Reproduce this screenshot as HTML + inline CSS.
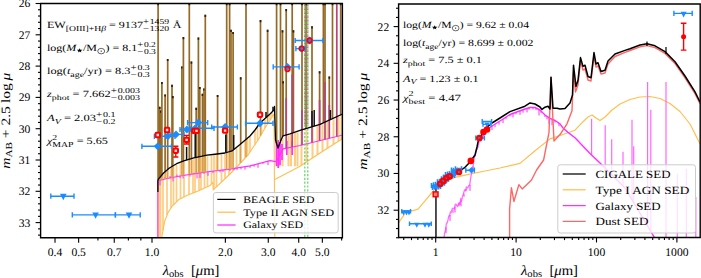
<!DOCTYPE html>
<html><head><meta charset="utf-8"><style>
html,body{margin:0;padding:0;background:#fff;width:701px;height:278px;overflow:hidden}
svg{display:block}
text{font-family:"Liberation Serif", serif;fill:#000;text-rendering:geometricPrecision;white-space:pre}
</style></head><body>
<svg xml:space="preserve" width="701" height="278" viewBox="0 0 701 278">
<clipPath id="cl"><rect x="40.6" y="3.5" width="301.79999999999995" height="234.3"/></clipPath>
<clipPath id="cr"><rect x="398.6" y="4.0" width="301.6" height="233.5"/></clipPath>
<g clip-path="url(#cl)"><line x1="160.50" y1="177.60" x2="160.50" y2="238.50" stroke="#ffcc80" stroke-width="1.7"/>
<line x1="163.00" y1="174.70" x2="163.00" y2="230.39" stroke="#ffcc80" stroke-width="1.7"/>
<line x1="167.00" y1="171.07" x2="167.00" y2="215.21" stroke="#ffcc80" stroke-width="1.7"/>
<line x1="171.00" y1="168.04" x2="171.00" y2="208.00" stroke="#ffcc80" stroke-width="1.7"/>
<line x1="173.50" y1="166.55" x2="173.50" y2="204.82" stroke="#ffcc80" stroke-width="1.7"/>
<line x1="176.50" y1="164.76" x2="176.50" y2="201.86" stroke="#ffcc80" stroke-width="1.7"/>
<line x1="180.50" y1="163.13" x2="180.50" y2="198.75" stroke="#ffcc80" stroke-width="1.7"/>
<line x1="184.00" y1="161.74" x2="184.00" y2="197.00" stroke="#ffcc80" stroke-width="1.7"/>
<line x1="189.00" y1="160.29" x2="189.00" y2="194.66" stroke="#ffcc80" stroke-width="1.7"/>
<line x1="193.00" y1="159.13" x2="193.00" y2="193.07" stroke="#ffcc80" stroke-width="1.7"/>
<line x1="195.00" y1="158.65" x2="195.00" y2="192.27" stroke="#ffcc80" stroke-width="1.7"/>
<line x1="199.00" y1="157.81" x2="199.00" y2="190.63" stroke="#ffcc80" stroke-width="1.7"/>
<line x1="201.00" y1="157.40" x2="201.00" y2="189.72" stroke="#ffcc80" stroke-width="1.7"/>
<line x1="204.50" y1="156.70" x2="204.50" y2="188.12" stroke="#ffcc80" stroke-width="1.7"/>
<line x1="207.50" y1="156.14" x2="207.50" y2="186.74" stroke="#ffcc80" stroke-width="1.7"/>
<line x1="211.50" y1="155.68" x2="211.50" y2="183.89" stroke="#ffcc80" stroke-width="1.7"/>
<line x1="214.00" y1="155.38" x2="214.00" y2="189.14" stroke="#ffcc80" stroke-width="1.7"/>
<line x1="216.50" y1="155.06" x2="216.50" y2="186.78" stroke="#ffcc80" stroke-width="1.7"/>
<line x1="221.50" y1="154.44" x2="221.50" y2="182.04" stroke="#ffcc80" stroke-width="1.7"/>
<line x1="225.00" y1="154.00" x2="225.00" y2="178.73" stroke="#ffcc80" stroke-width="1.7"/>
<line x1="229.00" y1="152.80" x2="229.00" y2="174.95" stroke="#ffcc80" stroke-width="1.7"/>
<line x1="233.00" y1="151.10" x2="233.00" y2="170.83" stroke="#ffcc80" stroke-width="1.7"/>
<line x1="236.50" y1="148.30" x2="236.50" y2="167.14" stroke="#ffcc80" stroke-width="1.7"/>
<line x1="240.00" y1="145.50" x2="240.00" y2="163.44" stroke="#ffcc80" stroke-width="1.7"/>
<line x1="245.00" y1="141.25" x2="245.00" y2="158.17" stroke="#ffcc80" stroke-width="1.7"/>
<line x1="247.50" y1="139.12" x2="247.50" y2="155.53" stroke="#ffcc80" stroke-width="1.7"/>
<line x1="250.00" y1="137.00" x2="250.00" y2="152.00" stroke="#ffcc80" stroke-width="1.7"/>
<line x1="255.00" y1="131.00" x2="255.00" y2="144.50" stroke="#ffcc80" stroke-width="1.7"/>
<line x1="257.50" y1="127.50" x2="257.50" y2="140.75" stroke="#ffcc80" stroke-width="1.7"/>
<line x1="261.50" y1="122.65" x2="261.50" y2="134.00" stroke="#ffcc80" stroke-width="1.7"/>
<line x1="265.00" y1="119.50" x2="265.00" y2="128.00" stroke="#ffcc80" stroke-width="1.7"/>
<line x1="270.00" y1="115.00" x2="270.00" y2="120.22" stroke="#ffcc80" stroke-width="1.7"/>
<line x1="272.00" y1="113.00" x2="272.00" y2="117.11" stroke="#ffcc80" stroke-width="1.7"/>
<line x1="277.00" y1="145.80" x2="277.00" y2="166.30" stroke="#ffcc80" stroke-width="2.0"/>
<line x1="279.50" y1="145.00" x2="279.50" y2="166.30" stroke="#ffcc80" stroke-width="2.0"/>
<line x1="282.50" y1="137.85" x2="282.50" y2="166.30" stroke="#ffcc80" stroke-width="2.0"/>
<line x1="288.50" y1="135.23" x2="288.50" y2="166.30" stroke="#ffcc80" stroke-width="2.0"/>
<line x1="291.00" y1="134.46" x2="291.00" y2="166.30" stroke="#ffcc80" stroke-width="2.0"/>
<line x1="295.00" y1="133.10" x2="295.00" y2="166.30" stroke="#ffcc80" stroke-width="2.0"/>
<line x1="297.50" y1="132.25" x2="297.50" y2="166.30" stroke="#ffcc80" stroke-width="2.0"/>
<line x1="301.50" y1="130.94" x2="301.50" y2="165.30" stroke="#ffcc80" stroke-width="2.0"/>
<line x1="306.50" y1="129.42" x2="306.50" y2="161.98" stroke="#ffcc80" stroke-width="2.0"/>
<line x1="312.50" y1="127.59" x2="312.50" y2="157.99" stroke="#ffcc80" stroke-width="2.0"/>
<line x1="317.50" y1="126.06" x2="317.50" y2="154.66" stroke="#ffcc80" stroke-width="2.0"/>
<line x1="322.50" y1="124.16" x2="322.50" y2="151.40" stroke="#ffcc80" stroke-width="2.0"/>
<line x1="327.50" y1="121.88" x2="327.50" y2="148.21" stroke="#ffcc80" stroke-width="2.0"/>
<line x1="333.50" y1="119.14" x2="333.50" y2="144.37" stroke="#ffcc80" stroke-width="2.0"/>
<line x1="338.50" y1="116.85" x2="338.50" y2="141.18" stroke="#ffcc80" stroke-width="2.0"/>
<line x1="341.50" y1="115.48" x2="341.50" y2="139.26" stroke="#ffcc80" stroke-width="2.0"/>
<line x1="276.50" y1="142.00" x2="276.50" y2="166.00" stroke="#ff30ff" stroke-width="1.7"/>
<line x1="278.20" y1="140.00" x2="278.20" y2="168.00" stroke="#ff30ff" stroke-width="1.7"/>
<line x1="280.00" y1="142.00" x2="280.00" y2="165.00" stroke="#ff30ff" stroke-width="1.7"/>
<line x1="282.00" y1="144.00" x2="282.00" y2="160.00" stroke="#ff30ff" stroke-width="1.7"/>
<line x1="286.80" y1="141.00" x2="286.80" y2="155.00" stroke="#ff30ff" stroke-width="1.7"/>
<line x1="292.20" y1="141.00" x2="292.20" y2="155.00" stroke="#ff30ff" stroke-width="1.7"/>
<path d="M161.50,238.50 L164.70,221.20 L168.00,212.60 L172.30,206.00 L178.80,199.60 L187.40,195.30 L198.20,191.00 L210.00,185.60 L212.90,182.30 L213.20,189.90 L230.00,174.00 L248.00,155.00 L258.00,140.00 L265.00,128.00 L274.00,114.00 L274.80,238.50" fill="none" stroke="#ffbf50" stroke-width="1.1" stroke-linejoin="round"/>
<path d="M274.80,179.60 L300.00,166.30 L320.00,153.00 L343.00,138.30" fill="none" stroke="#ffbf50" stroke-width="1.1" stroke-linejoin="round"/>
<line x1="158.90" y1="180.00" x2="158.90" y2="238.50" stroke="#ffbf50" stroke-width="1.4"/>
<path d="M157.80,238.50 L157.80,180.90 L165.00,179.00 L180.00,176.00 L195.00,173.70 L210.00,171.50 L230.00,169.10 L250.00,165.90 L270.00,160.60 L276.00,161.70 L283.00,148.80 L300.00,145.50 L343.00,135.00" fill="none" stroke="#ff30ff" stroke-width="1.2" stroke-linejoin="round"/>
<line x1="160.00" y1="180.32" x2="160.00" y2="185.32" stroke="#ff30ff" stroke-width="1.0"/>
<line x1="165.00" y1="179.00" x2="165.00" y2="177.00" stroke="#ff30ff" stroke-width="1.0"/>
<line x1="170.00" y1="178.00" x2="170.00" y2="176.00" stroke="#ff30ff" stroke-width="1.0"/>
<line x1="173.00" y1="177.40" x2="173.00" y2="181.40" stroke="#ff30ff" stroke-width="1.0"/>
<line x1="177.00" y1="176.60" x2="177.00" y2="174.60" stroke="#ff30ff" stroke-width="1.0"/>
<line x1="180.00" y1="176.00" x2="180.00" y2="178.00" stroke="#ff30ff" stroke-width="1.0"/>
<line x1="183.00" y1="175.54" x2="183.00" y2="178.54" stroke="#ff30ff" stroke-width="1.0"/>
<line x1="190.00" y1="174.47" x2="190.00" y2="176.47" stroke="#ff30ff" stroke-width="1.0"/>
<line x1="197.00" y1="173.41" x2="197.00" y2="178.41" stroke="#ff30ff" stroke-width="1.0"/>
<line x1="200.00" y1="172.97" x2="200.00" y2="177.97" stroke="#ff30ff" stroke-width="1.0"/>
<line x1="204.00" y1="172.38" x2="204.00" y2="173.88" stroke="#ff30ff" stroke-width="1.0"/>
<line x1="208.00" y1="171.79" x2="208.00" y2="175.79" stroke="#ff30ff" stroke-width="1.0"/>
<line x1="213.00" y1="171.14" x2="213.00" y2="173.14" stroke="#ff30ff" stroke-width="1.0"/>
<line x1="220.00" y1="170.30" x2="220.00" y2="172.30" stroke="#ff30ff" stroke-width="1.0"/>
<line x1="223.00" y1="169.94" x2="223.00" y2="171.94" stroke="#ff30ff" stroke-width="1.0"/>
<line x1="230.00" y1="169.10" x2="230.00" y2="171.10" stroke="#ff30ff" stroke-width="1.0"/>
<line x1="234.00" y1="168.46" x2="234.00" y2="169.96" stroke="#ff30ff" stroke-width="1.0"/>
<line x1="237.00" y1="167.98" x2="237.00" y2="169.98" stroke="#ff30ff" stroke-width="1.0"/>
<line x1="241.00" y1="167.34" x2="241.00" y2="169.34" stroke="#ff30ff" stroke-width="1.0"/>
<line x1="245.00" y1="166.70" x2="245.00" y2="169.70" stroke="#ff30ff" stroke-width="1.0"/>
<line x1="250.00" y1="165.90" x2="250.00" y2="167.90" stroke="#ff30ff" stroke-width="1.0"/>
<line x1="254.00" y1="164.84" x2="254.00" y2="166.84" stroke="#ff30ff" stroke-width="1.0"/>
<line x1="258.00" y1="163.78" x2="258.00" y2="167.78" stroke="#ff30ff" stroke-width="1.0"/>
<line x1="263.00" y1="162.45" x2="263.00" y2="163.95" stroke="#ff30ff" stroke-width="1.0"/>
<line x1="268.00" y1="161.13" x2="268.00" y2="165.13" stroke="#ff30ff" stroke-width="1.0"/>
<line x1="158.10" y1="179.80" x2="158.10" y2="180.82" stroke="#d9a050" stroke-width="1.6"/>
<line x1="158.10" y1="3.00" x2="158.10" y2="179.80" stroke="#946a26" stroke-width="1.7"/>
<line x1="158.10" y1="3.00" x2="158.10" y2="5.20" stroke="#2a2010" stroke-width="1.7"/>
<line x1="159.70" y1="177.52" x2="159.70" y2="180.40" stroke="#d9a050" stroke-width="1.6"/>
<line x1="159.70" y1="106.70" x2="159.70" y2="177.52" stroke="#946a26" stroke-width="1.7"/>
<line x1="159.70" y1="106.70" x2="159.70" y2="108.90" stroke="#2a2010" stroke-width="1.7"/>
<line x1="160.80" y1="176.25" x2="160.80" y2="180.11" stroke="#d9a050" stroke-width="1.6"/>
<line x1="160.80" y1="110.60" x2="160.80" y2="176.25" stroke="#946a26" stroke-width="1.7"/>
<line x1="160.80" y1="110.60" x2="160.80" y2="112.80" stroke="#2a2010" stroke-width="1.7"/>
<line x1="161.90" y1="174.97" x2="161.90" y2="179.82" stroke="#d9a050" stroke-width="1.6"/>
<line x1="161.90" y1="81.90" x2="161.90" y2="174.97" stroke="#946a26" stroke-width="1.7"/>
<line x1="161.90" y1="81.90" x2="161.90" y2="84.10" stroke="#2a2010" stroke-width="1.7"/>
<line x1="165.10" y1="171.71" x2="165.10" y2="178.98" stroke="#d9a050" stroke-width="1.6"/>
<line x1="165.10" y1="94.40" x2="165.10" y2="171.71" stroke="#946a26" stroke-width="1.7"/>
<line x1="165.10" y1="94.40" x2="165.10" y2="96.60" stroke="#2a2010" stroke-width="1.7"/>
<line x1="167.70" y1="169.47" x2="167.70" y2="178.46" stroke="#d9a050" stroke-width="1.6"/>
<line x1="167.70" y1="58.90" x2="167.70" y2="169.47" stroke="#946a26" stroke-width="1.7"/>
<line x1="167.70" y1="58.90" x2="167.70" y2="61.10" stroke="#2a2010" stroke-width="1.7"/>
<line x1="172.00" y1="166.45" x2="172.00" y2="177.60" stroke="#d9a050" stroke-width="1.6"/>
<line x1="172.00" y1="84.70" x2="172.00" y2="166.45" stroke="#946a26" stroke-width="1.7"/>
<line x1="172.00" y1="84.70" x2="172.00" y2="86.90" stroke="#2a2010" stroke-width="1.7"/>
<line x1="172.80" y1="165.97" x2="172.80" y2="177.44" stroke="#d9a050" stroke-width="1.6"/>
<line x1="172.80" y1="96.00" x2="172.80" y2="165.97" stroke="#946a26" stroke-width="1.7"/>
<line x1="172.80" y1="96.00" x2="172.80" y2="98.20" stroke="#2a2010" stroke-width="1.7"/>
<line x1="181.90" y1="161.57" x2="181.90" y2="175.71" stroke="#d9a050" stroke-width="1.6"/>
<line x1="181.90" y1="66.40" x2="181.90" y2="161.57" stroke="#946a26" stroke-width="1.7"/>
<line x1="181.90" y1="66.40" x2="181.90" y2="68.60" stroke="#2a2010" stroke-width="1.7"/>
<line x1="183.40" y1="160.96" x2="183.40" y2="175.48" stroke="#d9a050" stroke-width="1.6"/>
<line x1="183.40" y1="37.00" x2="183.40" y2="160.96" stroke="#946a26" stroke-width="1.7"/>
<line x1="183.40" y1="37.00" x2="183.40" y2="39.20" stroke="#2a2010" stroke-width="1.7"/>
<line x1="189.30" y1="159.21" x2="189.30" y2="174.57" stroke="#d9a050" stroke-width="1.6"/>
<line x1="189.30" y1="3.00" x2="189.30" y2="159.21" stroke="#946a26" stroke-width="1.7"/>
<line x1="189.30" y1="3.00" x2="189.30" y2="5.20" stroke="#2a2010" stroke-width="1.7"/>
<line x1="191.40" y1="158.60" x2="191.40" y2="174.25" stroke="#d9a050" stroke-width="1.6"/>
<line x1="191.40" y1="61.50" x2="191.40" y2="158.60" stroke="#946a26" stroke-width="1.7"/>
<line x1="191.40" y1="61.50" x2="191.40" y2="63.70" stroke="#2a2010" stroke-width="1.7"/>
<line x1="196.20" y1="157.40" x2="196.20" y2="173.52" stroke="#d9a050" stroke-width="1.6"/>
<line x1="196.20" y1="107.80" x2="196.20" y2="157.40" stroke="#946a26" stroke-width="1.7"/>
<line x1="196.20" y1="107.80" x2="196.20" y2="110.00" stroke="#2a2010" stroke-width="1.7"/>
<line x1="198.40" y1="156.94" x2="198.40" y2="173.20" stroke="#d9a050" stroke-width="1.6"/>
<line x1="198.40" y1="37.50" x2="198.40" y2="156.94" stroke="#946a26" stroke-width="1.7"/>
<line x1="198.40" y1="37.50" x2="198.40" y2="39.70" stroke="#2a2010" stroke-width="1.7"/>
<line x1="199.80" y1="156.64" x2="199.80" y2="173.00" stroke="#d9a050" stroke-width="1.6"/>
<line x1="199.80" y1="86.90" x2="199.80" y2="156.64" stroke="#946a26" stroke-width="1.7"/>
<line x1="199.80" y1="86.90" x2="199.80" y2="89.10" stroke="#2a2010" stroke-width="1.7"/>
<line x1="202.50" y1="156.10" x2="202.50" y2="172.60" stroke="#d9a050" stroke-width="1.6"/>
<line x1="202.50" y1="93.80" x2="202.50" y2="156.10" stroke="#946a26" stroke-width="1.7"/>
<line x1="202.50" y1="93.80" x2="202.50" y2="96.00" stroke="#2a2010" stroke-width="1.7"/>
<line x1="204.00" y1="155.80" x2="204.00" y2="172.38" stroke="#d9a050" stroke-width="1.6"/>
<line x1="204.00" y1="88.40" x2="204.00" y2="155.80" stroke="#946a26" stroke-width="1.7"/>
<line x1="204.00" y1="88.40" x2="204.00" y2="90.60" stroke="#2a2010" stroke-width="1.7"/>
<line x1="205.30" y1="155.54" x2="205.30" y2="172.19" stroke="#d9a050" stroke-width="1.6"/>
<line x1="205.30" y1="14.70" x2="205.30" y2="155.54" stroke="#946a26" stroke-width="1.7"/>
<line x1="205.30" y1="14.70" x2="205.30" y2="16.90" stroke="#2a2010" stroke-width="1.7"/>
<line x1="217.60" y1="153.93" x2="217.60" y2="170.59" stroke="#d9a050" stroke-width="1.6"/>
<line x1="217.60" y1="94.90" x2="217.60" y2="153.93" stroke="#946a26" stroke-width="1.7"/>
<line x1="217.60" y1="94.90" x2="217.60" y2="97.10" stroke="#2a2010" stroke-width="1.7"/>
<line x1="226.70" y1="152.49" x2="226.70" y2="169.50" stroke="#d9a050" stroke-width="1.6"/>
<line x1="226.70" y1="3.00" x2="226.70" y2="152.49" stroke="#946a26" stroke-width="1.7"/>
<line x1="226.70" y1="3.00" x2="226.70" y2="5.20" stroke="#2a2010" stroke-width="1.7"/>
<line x1="229.60" y1="151.62" x2="229.60" y2="169.15" stroke="#d9a050" stroke-width="1.6"/>
<line x1="229.60" y1="3.00" x2="229.60" y2="151.62" stroke="#946a26" stroke-width="1.7"/>
<line x1="229.60" y1="3.00" x2="229.60" y2="5.20" stroke="#2a2010" stroke-width="1.7"/>
<line x1="231.00" y1="151.20" x2="231.00" y2="168.94" stroke="#d9a050" stroke-width="1.6"/>
<line x1="231.00" y1="29.70" x2="231.00" y2="151.20" stroke="#946a26" stroke-width="1.7"/>
<line x1="231.00" y1="29.70" x2="231.00" y2="31.90" stroke="#2a2010" stroke-width="1.7"/>
<line x1="233.10" y1="150.02" x2="233.10" y2="168.60" stroke="#d9a050" stroke-width="1.6"/>
<line x1="233.10" y1="31.90" x2="233.10" y2="150.02" stroke="#946a26" stroke-width="1.7"/>
<line x1="233.10" y1="31.90" x2="233.10" y2="34.10" stroke="#2a2010" stroke-width="1.7"/>
<line x1="240.70" y1="143.91" x2="240.70" y2="162.71" stroke="#d9a050" stroke-width="1.6"/>
<line x1="240.70" y1="77.20" x2="240.70" y2="143.91" stroke="#946a26" stroke-width="1.7"/>
<line x1="240.70" y1="77.20" x2="240.70" y2="79.40" stroke="#2a2010" stroke-width="1.7"/>
<line x1="246.00" y1="139.40" x2="246.00" y2="157.11" stroke="#d9a050" stroke-width="1.6"/>
<line x1="246.00" y1="3.00" x2="246.00" y2="139.40" stroke="#946a26" stroke-width="1.7"/>
<line x1="246.00" y1="3.00" x2="246.00" y2="5.20" stroke="#2a2010" stroke-width="1.7"/>
<line x1="260.50" y1="122.55" x2="260.50" y2="135.71" stroke="#d9a050" stroke-width="1.6"/>
<line x1="260.50" y1="20.00" x2="260.50" y2="122.55" stroke="#946a26" stroke-width="1.7"/>
<line x1="260.50" y1="20.00" x2="260.50" y2="22.20" stroke="#2a2010" stroke-width="1.7"/>
<line x1="267.60" y1="116.16" x2="267.60" y2="123.96" stroke="#d9a050" stroke-width="1.6"/>
<line x1="267.60" y1="29.70" x2="267.60" y2="116.16" stroke="#946a26" stroke-width="1.7"/>
<line x1="267.60" y1="29.70" x2="267.60" y2="31.90" stroke="#2a2010" stroke-width="1.7"/>
<line x1="276.60" y1="3.00" x2="276.60" y2="143.52" stroke="#946a26" stroke-width="1.7"/>
<line x1="276.60" y1="3.00" x2="276.60" y2="5.20" stroke="#2a2010" stroke-width="1.7"/>
<line x1="280.50" y1="3.00" x2="280.50" y2="141.33" stroke="#946a26" stroke-width="1.7"/>
<line x1="280.50" y1="3.00" x2="280.50" y2="5.20" stroke="#2a2010" stroke-width="1.7"/>
<line x1="282.50" y1="30.20" x2="282.50" y2="136.85" stroke="#946a26" stroke-width="1.7"/>
<line x1="282.50" y1="30.20" x2="282.50" y2="32.40" stroke="#2a2010" stroke-width="1.7"/>
<line x1="283.10" y1="81.30" x2="283.10" y2="135.77" stroke="#946a26" stroke-width="1.7"/>
<line x1="283.10" y1="81.30" x2="283.10" y2="83.50" stroke="#2a2010" stroke-width="1.7"/>
<line x1="286.20" y1="9.00" x2="286.20" y2="134.89" stroke="#946a26" stroke-width="1.7"/>
<line x1="286.20" y1="9.00" x2="286.20" y2="11.20" stroke="#2a2010" stroke-width="1.7"/>
<line x1="292.20" y1="3.00" x2="292.20" y2="133.05" stroke="#946a26" stroke-width="1.7"/>
<line x1="292.20" y1="3.00" x2="292.20" y2="5.20" stroke="#2a2010" stroke-width="1.7"/>
<line x1="293.40" y1="30.20" x2="293.40" y2="132.64" stroke="#946a26" stroke-width="1.7"/>
<line x1="293.40" y1="30.20" x2="293.40" y2="32.40" stroke="#2a2010" stroke-width="1.7"/>
<line x1="302.00" y1="3.00" x2="302.00" y2="129.79" stroke="#946a26" stroke-width="1.7"/>
<line x1="302.00" y1="3.00" x2="302.00" y2="5.20" stroke="#2a2010" stroke-width="1.7"/>
<line x1="306.00" y1="3.00" x2="306.00" y2="128.57" stroke="#946a26" stroke-width="1.7"/>
<line x1="306.00" y1="3.00" x2="306.00" y2="5.20" stroke="#2a2010" stroke-width="1.7"/>
<line x1="312.00" y1="26.30" x2="312.00" y2="126.74" stroke="#946a26" stroke-width="1.7"/>
<line x1="312.00" y1="26.30" x2="312.00" y2="28.50" stroke="#2a2010" stroke-width="1.7"/>
<line x1="319.60" y1="71.20" x2="319.60" y2="124.42" stroke="#946a26" stroke-width="1.7"/>
<line x1="319.60" y1="71.20" x2="319.60" y2="73.40" stroke="#2a2010" stroke-width="1.7"/>
<line x1="323.40" y1="3.00" x2="323.40" y2="122.75" stroke="#946a26" stroke-width="1.7"/>
<line x1="323.40" y1="3.00" x2="323.40" y2="5.20" stroke="#2a2010" stroke-width="1.7"/>
<line x1="325.00" y1="3.00" x2="325.00" y2="122.02" stroke="#946a26" stroke-width="1.7"/>
<line x1="325.00" y1="3.00" x2="325.00" y2="5.20" stroke="#2a2010" stroke-width="1.7"/>
<line x1="329.30" y1="76.60" x2="329.30" y2="120.05" stroke="#946a26" stroke-width="1.7"/>
<line x1="329.30" y1="76.60" x2="329.30" y2="78.80" stroke="#2a2010" stroke-width="1.7"/>
<line x1="332.50" y1="3.00" x2="332.50" y2="118.59" stroke="#946a26" stroke-width="1.7"/>
<line x1="332.50" y1="3.00" x2="332.50" y2="5.20" stroke="#2a2010" stroke-width="1.7"/>
<line x1="340.70" y1="3.00" x2="340.70" y2="114.85" stroke="#946a26" stroke-width="1.7"/>
<line x1="340.70" y1="3.00" x2="340.70" y2="5.20" stroke="#2a2010" stroke-width="1.7"/>
<line x1="286.20" y1="98.00" x2="286.20" y2="148.18" stroke="#b8457a" stroke-width="1.7"/>
<line x1="292.20" y1="74.40" x2="292.20" y2="147.01" stroke="#b8457a" stroke-width="1.7"/>
<line x1="302.00" y1="110.00" x2="302.00" y2="145.01" stroke="#b8457a" stroke-width="1.7"/>
<line x1="312.00" y1="115.00" x2="312.00" y2="142.57" stroke="#b8457a" stroke-width="1.7"/>
<line x1="319.60" y1="100.00" x2="319.60" y2="140.71" stroke="#b8457a" stroke-width="1.7"/>
<line x1="325.00" y1="82.00" x2="325.00" y2="139.40" stroke="#b8457a" stroke-width="1.7"/>
<line x1="329.30" y1="105.00" x2="329.30" y2="138.35" stroke="#b8457a" stroke-width="1.7"/>
<line x1="336.80" y1="3.00" x2="336.80" y2="136.51" stroke="#b8457a" stroke-width="1.7"/>
<line x1="186.60" y1="147.00" x2="186.60" y2="159.99" stroke="#111" stroke-width="1.5"/>
<line x1="195.20" y1="133.60" x2="195.20" y2="157.61" stroke="#111" stroke-width="1.5"/>
<line x1="225.80" y1="134.40" x2="225.80" y2="152.76" stroke="#111" stroke-width="1.5"/>
<line x1="233.70" y1="135.00" x2="233.70" y2="149.54" stroke="#111" stroke-width="1.5"/>
<line x1="266.00" y1="112.00" x2="266.00" y2="117.60" stroke="#111" stroke-width="1.5"/>
<line x1="273.00" y1="106.70" x2="273.00" y2="111.00" stroke="#111" stroke-width="1.5"/>
<line x1="312.00" y1="111.00" x2="312.00" y2="126.74" stroke="#111" stroke-width="1.5"/>
<line x1="314.20" y1="110.00" x2="314.20" y2="126.07" stroke="#111" stroke-width="1.5"/>
<line x1="330.40" y1="110.00" x2="330.40" y2="119.55" stroke="#111" stroke-width="1.5"/>
<line x1="304.80" y1="3.00" x2="304.80" y2="125.00" stroke="#c05090" stroke-width="1.2" stroke-dasharray="1.6,2.2" stroke-dashoffset="1.9"/>
<line x1="304.80" y1="3.00" x2="304.80" y2="238.00" stroke="#66d066" stroke-width="1.2" stroke-dasharray="2.2,1.6"/>
<line x1="307.80" y1="3.00" x2="307.80" y2="125.00" stroke="#c05090" stroke-width="1.2" stroke-dasharray="1.6,2.2" stroke-dashoffset="1.9"/>
<line x1="307.80" y1="3.00" x2="307.80" y2="238.00" stroke="#66d066" stroke-width="1.2" stroke-dasharray="2.2,1.6"/>
<path d="M157.90,192.00 L157.90,180.20 L158.60,178.80 L163.60,173.00 L169.40,168.00 L176.60,163.70 L183.80,160.80 L193.80,157.90 L200.00,156.60 L207.00,155.20 L213.00,154.50 L225.00,153.00 L232.00,150.90 L240.00,144.50 L250.00,136.00 L255.00,130.00 L260.00,123.00 L270.00,114.00 L274.00,110.00 L274.50,106.50 L275.50,140.00 L278.00,148.00 L281.00,140.00 L283.00,135.80 L290.00,133.80 L300.00,130.40 L320.00,124.30 L343.00,113.80" fill="none" stroke="#000" stroke-width="1.3" stroke-linejoin="round"/>
<line x1="141.90" y1="146.30" x2="171.50" y2="146.30" stroke="#1a8cff" stroke-width="1.4"/><line x1="141.90" y1="143.70" x2="141.90" y2="148.90" stroke="#1a8cff" stroke-width="1.4"/><line x1="171.50" y1="143.70" x2="171.50" y2="148.90" stroke="#1a8cff" stroke-width="1.4"/>
<path d="M157.60,142.40 L161.50,146.30 L157.60,150.20 L153.70,146.30 Z" fill="#1a8cff"/>
<line x1="154.40" y1="136.30" x2="175.00" y2="136.30" stroke="#1a8cff" stroke-width="1.4"/><line x1="154.40" y1="133.70" x2="154.40" y2="138.90" stroke="#1a8cff" stroke-width="1.4"/><line x1="175.00" y1="133.70" x2="175.00" y2="138.90" stroke="#1a8cff" stroke-width="1.4"/>
<path d="M167.80,132.40 L171.70,136.30 L167.80,140.20 L163.90,136.30 Z" fill="#1a8cff"/>
<line x1="170.00" y1="134.40" x2="184.00" y2="134.40" stroke="#1a8cff" stroke-width="1.4"/><line x1="170.00" y1="131.80" x2="170.00" y2="137.00" stroke="#1a8cff" stroke-width="1.4"/><line x1="184.00" y1="131.80" x2="184.00" y2="137.00" stroke="#1a8cff" stroke-width="1.4"/>
<path d="M176.00,130.50 L179.90,134.40 L176.00,138.30 L172.10,134.40 Z" fill="#1a8cff"/>
<line x1="180.00" y1="129.50" x2="191.00" y2="129.50" stroke="#1a8cff" stroke-width="1.4"/><line x1="180.00" y1="126.90" x2="180.00" y2="132.10" stroke="#1a8cff" stroke-width="1.4"/><line x1="191.00" y1="126.90" x2="191.00" y2="132.10" stroke="#1a8cff" stroke-width="1.4"/>
<path d="M186.90,125.60 L190.80,129.50 L186.90,133.40 L183.00,129.50 Z" fill="#1a8cff"/>
<line x1="187.60" y1="122.60" x2="207.70" y2="122.60" stroke="#1a8cff" stroke-width="1.4"/><line x1="187.60" y1="120.00" x2="187.60" y2="125.20" stroke="#1a8cff" stroke-width="1.4"/><line x1="207.70" y1="120.00" x2="207.70" y2="125.20" stroke="#1a8cff" stroke-width="1.4"/>
<path d="M198.30,118.70 L202.20,122.60 L198.30,126.50 L194.40,122.60 Z" fill="#1a8cff"/>
<line x1="190.00" y1="128.30" x2="214.00" y2="128.30" stroke="#1a8cff" stroke-width="1.4"/><line x1="190.00" y1="125.70" x2="190.00" y2="130.90" stroke="#1a8cff" stroke-width="1.4"/><line x1="214.00" y1="125.70" x2="214.00" y2="130.90" stroke="#1a8cff" stroke-width="1.4"/>
<path d="M195.10,124.40 L199.00,128.30 L195.10,132.20 L191.20,128.30 Z" fill="#1a8cff"/>
<line x1="211.70" y1="127.00" x2="237.40" y2="127.00" stroke="#1a8cff" stroke-width="1.4"/><line x1="211.70" y1="124.40" x2="211.70" y2="129.60" stroke="#1a8cff" stroke-width="1.4"/><line x1="237.40" y1="124.40" x2="237.40" y2="129.60" stroke="#1a8cff" stroke-width="1.4"/>
<path d="M225.10,123.10 L229.00,127.00 L225.10,130.90 L221.20,127.00 Z" fill="#1a8cff"/>
<line x1="245.60" y1="123.30" x2="273.00" y2="123.30" stroke="#1a8cff" stroke-width="1.4"/><line x1="245.60" y1="120.70" x2="245.60" y2="125.90" stroke="#1a8cff" stroke-width="1.4"/><line x1="273.00" y1="120.70" x2="273.00" y2="125.90" stroke="#1a8cff" stroke-width="1.4"/>
<path d="M260.00,119.40 L263.90,123.30 L260.00,127.20 L256.10,123.30 Z" fill="#1a8cff"/>
<line x1="273.20" y1="66.90" x2="299.10" y2="66.90" stroke="#1a8cff" stroke-width="1.4"/><line x1="273.20" y1="64.30" x2="273.20" y2="69.50" stroke="#1a8cff" stroke-width="1.4"/><line x1="299.10" y1="64.30" x2="299.10" y2="69.50" stroke="#1a8cff" stroke-width="1.4"/>
<path d="M287.50,63.00 L291.40,66.90 L287.50,70.80 L283.60,66.90 Z" fill="#1a8cff"/>
<line x1="295.20" y1="40.50" x2="322.90" y2="40.50" stroke="#1a8cff" stroke-width="1.4"/><line x1="295.20" y1="37.90" x2="295.20" y2="43.10" stroke="#1a8cff" stroke-width="1.4"/><line x1="322.90" y1="37.90" x2="322.90" y2="43.10" stroke="#1a8cff" stroke-width="1.4"/>
<path d="M309.70,36.60 L313.60,40.50 L309.70,44.40 L305.80,40.50 Z" fill="#1a8cff"/>
<line x1="295.90" y1="48.60" x2="305.10" y2="48.60" stroke="#1a8cff" stroke-width="1.4"/><line x1="295.90" y1="46.00" x2="295.90" y2="51.20" stroke="#1a8cff" stroke-width="1.4"/><line x1="305.10" y1="46.00" x2="305.10" y2="51.20" stroke="#1a8cff" stroke-width="1.4"/>
<path d="M301.70,44.70 L305.60,48.60 L301.70,52.50 L297.80,48.60 Z" fill="#1a8cff"/>
<line x1="50.80" y1="196.20" x2="74.00" y2="196.20" stroke="#1a8cff" stroke-width="1.4"/><line x1="50.80" y1="193.60" x2="50.80" y2="198.80" stroke="#1a8cff" stroke-width="1.4"/><line x1="74.00" y1="193.60" x2="74.00" y2="198.80" stroke="#1a8cff" stroke-width="1.4"/>
<path d="M60.00,193.72 L66.60,193.72 L63.30,200.16 Z" fill="#1a8cff"/>
<line x1="72.30" y1="214.90" x2="115.40" y2="214.90" stroke="#1a8cff" stroke-width="1.4"/><line x1="72.30" y1="212.30" x2="72.30" y2="217.50" stroke="#1a8cff" stroke-width="1.4"/><line x1="115.40" y1="212.30" x2="115.40" y2="217.50" stroke="#1a8cff" stroke-width="1.4"/>
<path d="M92.30,212.43 L98.90,212.43 L95.60,218.86 Z" fill="#1a8cff"/>
<line x1="115.40" y1="214.90" x2="140.20" y2="214.90" stroke="#1a8cff" stroke-width="1.4"/><line x1="115.40" y1="212.30" x2="115.40" y2="217.50" stroke="#1a8cff" stroke-width="1.4"/><line x1="140.20" y1="212.30" x2="140.20" y2="217.50" stroke="#1a8cff" stroke-width="1.4"/>
<path d="M125.70,212.43 L132.30,212.43 L129.00,218.86 Z" fill="#1a8cff"/>
<rect x="155.60" y="132.80" width="4.40" height="4.40" rx="0.8" fill="#ffdddd" stroke="#ff0000" stroke-width="2.0"/>
<rect x="164.90" y="127.80" width="4.40" height="4.40" rx="0.8" fill="#ffdddd" stroke="#ff0000" stroke-width="2.0"/>
<line x1="175.80" y1="146.20" x2="175.80" y2="157.00" stroke="#ff0000" stroke-width="1.4"/><line x1="173.20" y1="146.20" x2="178.40" y2="146.20" stroke="#ff0000" stroke-width="1.4"/><line x1="173.20" y1="157.00" x2="178.40" y2="157.00" stroke="#ff0000" stroke-width="1.4"/>
<rect x="173.60" y="148.50" width="4.40" height="4.40" rx="0.8" fill="#ffdddd" stroke="#ff0000" stroke-width="2.0"/>
<line x1="186.60" y1="135.40" x2="186.60" y2="144.00" stroke="#ff0000" stroke-width="1.4"/><line x1="184.00" y1="135.40" x2="189.20" y2="135.40" stroke="#ff0000" stroke-width="1.4"/><line x1="184.00" y1="144.00" x2="189.20" y2="144.00" stroke="#ff0000" stroke-width="1.4"/>
<rect x="184.40" y="137.70" width="4.40" height="4.40" rx="0.8" fill="#ffdddd" stroke="#ff0000" stroke-width="2.0"/>
<rect x="192.10" y="128.70" width="4.40" height="4.40" rx="0.8" fill="#ffdddd" stroke="#ff0000" stroke-width="2.0"/>
<rect x="194.30" y="128.70" width="4.40" height="4.40" rx="0.8" fill="#ffdddd" stroke="#ff0000" stroke-width="2.0"/>
<rect x="222.90" y="128.40" width="4.40" height="4.40" rx="0.8" fill="#ffdddd" stroke="#ff0000" stroke-width="2.0"/>
<rect x="257.80" y="112.50" width="4.40" height="4.40" rx="0.8" fill="#ffdddd" stroke="#ff0000" stroke-width="2.0"/>
<circle cx="287.50" cy="69.00" r="2.3" fill="none" stroke="#ff0000" stroke-width="1.7"/>
<circle cx="309.60" cy="40.50" r="2.3" fill="none" stroke="#ff0000" stroke-width="1.7"/>
<circle cx="301.70" cy="48.60" r="2.3" fill="none" stroke="#ff0000" stroke-width="1.7"/></g>
<g clip-path="url(#cr)"><path d="M398.00,223.75 L405.00,213.30 L412.00,210.80 L418.00,209.20 L425.00,200.80 L432.00,192.50 L437.00,186.20 L445.00,181.60 L455.00,177.30 L465.00,175.10 L485.00,171.00 L500.00,168.00 L520.00,163.40 L535.00,150.80 L550.00,138.90 L560.00,135.50 L575.00,130.20 L583.00,121.70 L588.00,117.00 L592.00,115.00 L596.00,118.00 L600.00,120.50 L605.00,117.00 L612.00,110.00 L620.00,104.00 L630.00,99.50 L640.00,97.00 L650.00,96.50 L660.00,98.50 L670.00,103.50 L680.00,111.50 L690.00,124.00 L700.00,143.70" fill="none" stroke="#ffbf50" stroke-width="1.2" stroke-linejoin="round"/>
<line x1="591.60" y1="118.80" x2="591.60" y2="154.94" stroke="#ff66ff" stroke-width="1.2"/>
<line x1="605.20" y1="125.30" x2="605.20" y2="168.20" stroke="#ff66ff" stroke-width="1.2"/>
<line x1="611.70" y1="139.20" x2="611.70" y2="174.70" stroke="#ff66ff" stroke-width="1.2"/>
<line x1="623.00" y1="151.80" x2="623.00" y2="186.00" stroke="#ff66ff" stroke-width="1.2"/>
<line x1="632.00" y1="119.80" x2="632.00" y2="199.78" stroke="#ff66ff" stroke-width="1.2"/>
<line x1="633.70" y1="146.30" x2="633.70" y2="202.65" stroke="#ff66ff" stroke-width="1.2"/>
<line x1="647.60" y1="82.00" x2="647.60" y2="226.04" stroke="#ff66ff" stroke-width="1.2"/>
<line x1="650.80" y1="109.80" x2="650.80" y2="231.43" stroke="#ff66ff" stroke-width="1.2"/>
<line x1="666.00" y1="82.00" x2="666.00" y2="238.50" stroke="#ff66ff" stroke-width="1.2"/>
<line x1="677.30" y1="174.00" x2="677.30" y2="238.50" stroke="#ff66ff" stroke-width="1.2"/>
<line x1="686.30" y1="168.80" x2="686.30" y2="238.50" stroke="#ff66ff" stroke-width="1.2"/>
<line x1="695.80" y1="197.00" x2="695.80" y2="238.50" stroke="#ff66ff" stroke-width="1.2"/>
<path d="M444.00,237.62 L444.80,232.21 L445.60,230.16 L446.40,223.26 L447.20,223.18 L448.00,219.93 L448.80,215.99 L449.60,215.84 L450.40,211.89 L451.20,212.53 L452.00,209.38 L452.80,208.15 L453.60,208.49 L454.40,209.17 L455.20,204.32 L456.00,204.18 L456.80,205.56 L457.60,206.52 L458.40,204.03 L459.20,202.48 L460.00,204.46 L460.80,198.41 L461.60,201.07 L462.40,196.82 L463.20,194.70 L464.00,191.79 L464.80,189.78 L465.60,190.96 L466.40,186.95 L467.20,188.12 L468.00,187.57 L468.80,185.41 L469.60,185.45 L470.40,180.13 L471.20,175.16 L472.00,170.93 L472.80,168.34 L473.60,162.12 L474.40,157.47 L475.20,155.63 L476.00,151.77 L476.80,147.80 L477.60,148.07 L478.40,145.73 L479.20,141.59" fill="none" stroke="#ff70ff" stroke-width="1.3" stroke-linejoin="round"/>
<path d="M480.00,141.00 L485.00,131.50 L492.00,126.00 L500.00,121.00 L510.00,114.50 L525.00,109.00 L530.00,107.50 L535.00,107.50 L540.00,110.00 L543.00,113.00 L545.00,115.00 L550.00,118.40 L555.00,120.50 L560.00,123.80 L563.00,128.00 L568.00,132.40 L575.00,137.80 L590.00,153.40 L600.00,163.00 L625.00,188.00 L655.00,238.50" fill="none" stroke="#ff30ff" stroke-width="1.4" stroke-linejoin="round"/>
<line x1="446.00" y1="227.14" x2="446.00" y2="233.14" stroke="#ff30ff" stroke-width="1.0"/>
<line x1="450.00" y1="214.87" x2="450.00" y2="220.87" stroke="#ff30ff" stroke-width="1.0"/>
<line x1="453.00" y1="209.87" x2="453.00" y2="212.87" stroke="#ff30ff" stroke-width="1.0"/>
<line x1="455.00" y1="206.53" x2="455.00" y2="212.53" stroke="#ff30ff" stroke-width="1.0"/>
<line x1="459.00" y1="203.16" x2="459.00" y2="206.16" stroke="#ff30ff" stroke-width="1.0"/>
<line x1="461.00" y1="200.32" x2="461.00" y2="206.32" stroke="#ff30ff" stroke-width="1.0"/>
<line x1="464.00" y1="193.71" x2="464.00" y2="196.71" stroke="#ff30ff" stroke-width="1.0"/>
<line x1="466.00" y1="188.96" x2="466.00" y2="190.96" stroke="#ff30ff" stroke-width="1.0"/>
<line x1="470.00" y1="184.80" x2="470.00" y2="190.80" stroke="#ff30ff" stroke-width="1.0"/>
<line x1="473.00" y1="166.20" x2="473.00" y2="169.20" stroke="#ff30ff" stroke-width="1.0"/>
<line x1="477.00" y1="148.00" x2="477.00" y2="150.00" stroke="#ff30ff" stroke-width="1.0"/>
<line x1="481.00" y1="139.10" x2="481.00" y2="141.10" stroke="#ff30ff" stroke-width="1.0"/>
<line x1="483.00" y1="135.30" x2="483.00" y2="137.30" stroke="#ff30ff" stroke-width="1.0"/>
<line x1="485.00" y1="131.50" x2="485.00" y2="134.50" stroke="#ff30ff" stroke-width="1.0"/>
<line x1="489.00" y1="128.36" x2="489.00" y2="130.36" stroke="#ff30ff" stroke-width="1.0"/>
<line x1="492.00" y1="126.00" x2="492.00" y2="130.00" stroke="#ff30ff" stroke-width="1.0"/>
<line x1="495.00" y1="124.12" x2="495.00" y2="127.12" stroke="#ff30ff" stroke-width="1.0"/>
<line x1="499.00" y1="121.62" x2="499.00" y2="124.62" stroke="#ff30ff" stroke-width="1.0"/>
<line x1="503.00" y1="119.05" x2="503.00" y2="123.05" stroke="#ff30ff" stroke-width="1.0"/>
<line x1="506.00" y1="117.10" x2="506.00" y2="119.10" stroke="#ff30ff" stroke-width="1.0"/>
<line x1="510.00" y1="114.50" x2="510.00" y2="116.50" stroke="#ff30ff" stroke-width="1.0"/>
<line x1="513.00" y1="113.40" x2="513.00" y2="117.40" stroke="#ff30ff" stroke-width="1.0"/>
<line x1="516.00" y1="112.30" x2="516.00" y2="114.30" stroke="#ff30ff" stroke-width="1.0"/>
<line x1="520.00" y1="110.83" x2="520.00" y2="114.83" stroke="#ff30ff" stroke-width="1.0"/>
<line x1="523.00" y1="109.73" x2="523.00" y2="112.73" stroke="#ff30ff" stroke-width="1.0"/>
<line x1="527.00" y1="108.40" x2="527.00" y2="112.40" stroke="#ff30ff" stroke-width="1.0"/>
<line x1="529.00" y1="107.80" x2="529.00" y2="109.80" stroke="#ff30ff" stroke-width="1.0"/>
<line x1="533.00" y1="107.50" x2="533.00" y2="109.50" stroke="#ff30ff" stroke-width="1.0"/>
<line x1="536.00" y1="108.00" x2="536.00" y2="110.00" stroke="#ff30ff" stroke-width="1.0"/>
<line x1="539.00" y1="109.50" x2="539.00" y2="115.50" stroke="#ff30ff" stroke-width="1.0"/>
<line x1="541.00" y1="111.00" x2="541.00" y2="113.00" stroke="#ff30ff" stroke-width="1.0"/>
<line x1="545.00" y1="115.00" x2="545.00" y2="117.00" stroke="#ff30ff" stroke-width="1.0"/>
<line x1="547.00" y1="116.36" x2="547.00" y2="119.36" stroke="#ff30ff" stroke-width="1.0"/>
<line x1="549.00" y1="117.72" x2="549.00" y2="123.72" stroke="#ff30ff" stroke-width="1.0"/>
<line x1="552.00" y1="119.24" x2="552.00" y2="125.24" stroke="#ff30ff" stroke-width="1.0"/>
<line x1="555.00" y1="120.50" x2="555.00" y2="122.50" stroke="#ff30ff" stroke-width="1.0"/>
<line x1="559.00" y1="123.14" x2="559.00" y2="126.14" stroke="#ff30ff" stroke-width="1.0"/>
<path d="M509.60,238.50 L509.60,209.00 L511.40,187.60 L513.90,201.50 L518.90,184.60 L522.20,188.90 L531.50,180.00 L536.60,170.00 L543.60,160.00 L549.00,132.40 L550.50,92.00 L551.00,77.30 L551.60,92.00 L554.00,141.00 L560.00,134.60 L567.00,123.80 L572.00,110.80 L573.50,72.00 L575.50,92.00 L578.00,85.00 L580.50,61.00 L583.00,70.00 L585.00,69.00 L588.00,80.00 L591.00,81.00 L594.00,56.00 L596.00,67.00 L598.00,66.00 L601.00,74.00 L605.00,73.00 L608.00,64.00 L615.00,56.50 L625.00,52.40 L630.00,50.50 L640.00,46.80 L647.00,45.60 L655.00,47.60 L665.00,53.40 L675.00,63.50 L685.00,77.80 L695.00,93.70 L700.00,103.80" fill="none" stroke="#ff6666" stroke-width="1.4" stroke-linejoin="round"/>
<path d="M435.80,238.50 L435.80,186.60 L440.00,183.00 L445.00,179.40 L450.00,176.50 L455.00,174.00 L459.00,171.50 L465.00,167.30 L470.00,162.00 L475.00,155.00 L477.00,147.00 L478.00,142.00 L479.00,139.50 L485.00,128.80 L492.00,123.00 L500.00,118.00 L510.00,111.60 L525.00,106.20 L530.00,102.90 L535.00,104.00 L540.00,107.00 L542.00,109.40 L545.00,107.20 L548.00,106.20 L550.00,109.00 L551.00,77.30 L553.00,108.30 L557.00,108.30 L560.00,109.00 L565.00,108.60 L570.00,103.00 L572.50,95.00 L573.50,65.20 L576.00,86.60 L578.00,80.30 L580.50,57.60 L583.00,66.40 L585.00,65.20 L588.00,76.50 L591.00,77.80 L594.00,52.60 L596.00,64.00 L598.00,62.70 L601.00,71.50 L605.00,70.20 L608.00,61.00 L615.00,54.00 L625.00,50.40 L630.00,48.70 L640.00,45.00 L647.00,43.80 L655.00,45.80 L665.00,51.60 L675.00,61.70 L685.00,76.00 L695.00,91.90 L700.00,102.00" fill="none" stroke="#000" stroke-width="1.5" stroke-linejoin="round"/>
<line x1="436.00" y1="186.60" x2="436.00" y2="238.50" stroke="#555" stroke-width="1.6"/>
<line x1="647.00" y1="41.50" x2="647.00" y2="46.00" stroke="#000" stroke-width="1.2"/>
<line x1="666.00" y1="47.00" x2="666.00" y2="54.00" stroke="#000" stroke-width="1.2"/>
<line x1="401.80" y1="211.30" x2="410.50" y2="211.30" stroke="#1a8cff" stroke-width="1.4"/><line x1="401.80" y1="209.10" x2="401.80" y2="213.50" stroke="#1a8cff" stroke-width="1.4"/><line x1="410.50" y1="209.10" x2="410.50" y2="213.50" stroke="#1a8cff" stroke-width="1.4"/>
<line x1="409.50" y1="223.75" x2="431.30" y2="223.75" stroke="#1a8cff" stroke-width="1.4"/><line x1="409.50" y1="221.55" x2="409.50" y2="225.95" stroke="#1a8cff" stroke-width="1.4"/><line x1="431.30" y1="221.55" x2="431.30" y2="225.95" stroke="#1a8cff" stroke-width="1.4"/>
<path d="M400.90,210.35 L406.10,210.35 L403.50,215.42 Z" fill="#1a8cff"/>
<path d="M403.90,210.35 L409.10,210.35 L406.50,215.42 Z" fill="#1a8cff"/>
<path d="M406.40,210.35 L411.60,210.35 L409.00,215.42 Z" fill="#1a8cff"/>
<path d="M414.15,222.80 L419.35,222.80 L416.75,227.87 Z" fill="#1a8cff"/>
<path d="M422.40,222.80 L427.60,222.80 L425.00,227.87 Z" fill="#1a8cff"/>
<path d="M426.20,222.80 L431.40,222.80 L428.80,227.87 Z" fill="#1a8cff"/>
<line x1="431.50" y1="185.50" x2="437.50" y2="185.50" stroke="#1a8cff" stroke-width="1.6"/><line x1="431.50" y1="182.90" x2="431.50" y2="188.10" stroke="#1a8cff" stroke-width="1.6"/><line x1="437.50" y1="182.90" x2="437.50" y2="188.10" stroke="#1a8cff" stroke-width="1.6"/>
<line x1="432.50" y1="188.00" x2="436.50" y2="188.00" stroke="#1a8cff" stroke-width="1.6"/><line x1="432.50" y1="186.00" x2="432.50" y2="190.00" stroke="#1a8cff" stroke-width="1.6"/><line x1="436.50" y1="186.00" x2="436.50" y2="190.00" stroke="#1a8cff" stroke-width="1.6"/>
<line x1="433.50" y1="184.95" x2="439.50" y2="184.95" stroke="#1a8cff" stroke-width="1.6"/><line x1="433.50" y1="182.35" x2="433.50" y2="187.55" stroke="#1a8cff" stroke-width="1.6"/><line x1="439.50" y1="182.35" x2="439.50" y2="187.55" stroke="#1a8cff" stroke-width="1.6"/>
<line x1="434.50" y1="187.45" x2="438.50" y2="187.45" stroke="#1a8cff" stroke-width="1.6"/><line x1="434.50" y1="185.45" x2="434.50" y2="189.45" stroke="#1a8cff" stroke-width="1.6"/><line x1="438.50" y1="185.45" x2="438.50" y2="189.45" stroke="#1a8cff" stroke-width="1.6"/>
<line x1="435.50" y1="184.40" x2="441.50" y2="184.40" stroke="#1a8cff" stroke-width="1.6"/><line x1="435.50" y1="181.80" x2="435.50" y2="187.00" stroke="#1a8cff" stroke-width="1.6"/><line x1="441.50" y1="181.80" x2="441.50" y2="187.00" stroke="#1a8cff" stroke-width="1.6"/>
<line x1="436.50" y1="186.90" x2="440.50" y2="186.90" stroke="#1a8cff" stroke-width="1.6"/><line x1="436.50" y1="184.90" x2="436.50" y2="188.90" stroke="#1a8cff" stroke-width="1.6"/><line x1="440.50" y1="184.90" x2="440.50" y2="188.90" stroke="#1a8cff" stroke-width="1.6"/>
<line x1="437.50" y1="181.85" x2="443.50" y2="181.85" stroke="#1a8cff" stroke-width="1.6"/><line x1="437.50" y1="179.25" x2="437.50" y2="184.45" stroke="#1a8cff" stroke-width="1.6"/><line x1="443.50" y1="179.25" x2="443.50" y2="184.45" stroke="#1a8cff" stroke-width="1.6"/>
<line x1="438.50" y1="184.35" x2="442.50" y2="184.35" stroke="#1a8cff" stroke-width="1.6"/><line x1="438.50" y1="182.35" x2="438.50" y2="186.35" stroke="#1a8cff" stroke-width="1.6"/><line x1="442.50" y1="182.35" x2="442.50" y2="186.35" stroke="#1a8cff" stroke-width="1.6"/>
<line x1="439.50" y1="181.30" x2="445.50" y2="181.30" stroke="#1a8cff" stroke-width="1.6"/><line x1="439.50" y1="178.70" x2="439.50" y2="183.90" stroke="#1a8cff" stroke-width="1.6"/><line x1="445.50" y1="178.70" x2="445.50" y2="183.90" stroke="#1a8cff" stroke-width="1.6"/>
<line x1="440.50" y1="183.80" x2="444.50" y2="183.80" stroke="#1a8cff" stroke-width="1.6"/><line x1="440.50" y1="181.80" x2="440.50" y2="185.80" stroke="#1a8cff" stroke-width="1.6"/><line x1="444.50" y1="181.80" x2="444.50" y2="185.80" stroke="#1a8cff" stroke-width="1.6"/>
<line x1="441.50" y1="178.75" x2="447.50" y2="178.75" stroke="#1a8cff" stroke-width="1.6"/><line x1="441.50" y1="176.15" x2="441.50" y2="181.35" stroke="#1a8cff" stroke-width="1.6"/><line x1="447.50" y1="176.15" x2="447.50" y2="181.35" stroke="#1a8cff" stroke-width="1.6"/>
<line x1="442.50" y1="181.25" x2="446.50" y2="181.25" stroke="#1a8cff" stroke-width="1.6"/><line x1="442.50" y1="179.25" x2="442.50" y2="183.25" stroke="#1a8cff" stroke-width="1.6"/><line x1="446.50" y1="179.25" x2="446.50" y2="183.25" stroke="#1a8cff" stroke-width="1.6"/>
<line x1="443.50" y1="177.20" x2="449.50" y2="177.20" stroke="#1a8cff" stroke-width="1.6"/><line x1="443.50" y1="174.60" x2="443.50" y2="179.80" stroke="#1a8cff" stroke-width="1.6"/><line x1="449.50" y1="174.60" x2="449.50" y2="179.80" stroke="#1a8cff" stroke-width="1.6"/>
<line x1="444.50" y1="179.70" x2="448.50" y2="179.70" stroke="#1a8cff" stroke-width="1.6"/><line x1="444.50" y1="177.70" x2="444.50" y2="181.70" stroke="#1a8cff" stroke-width="1.6"/><line x1="448.50" y1="177.70" x2="448.50" y2="181.70" stroke="#1a8cff" stroke-width="1.6"/>
<line x1="445.50" y1="174.65" x2="451.50" y2="174.65" stroke="#1a8cff" stroke-width="1.6"/><line x1="445.50" y1="172.05" x2="445.50" y2="177.25" stroke="#1a8cff" stroke-width="1.6"/><line x1="451.50" y1="172.05" x2="451.50" y2="177.25" stroke="#1a8cff" stroke-width="1.6"/>
<line x1="446.50" y1="177.15" x2="450.50" y2="177.15" stroke="#1a8cff" stroke-width="1.6"/><line x1="446.50" y1="175.15" x2="446.50" y2="179.15" stroke="#1a8cff" stroke-width="1.6"/><line x1="450.50" y1="175.15" x2="450.50" y2="179.15" stroke="#1a8cff" stroke-width="1.6"/>
<line x1="447.50" y1="174.10" x2="453.50" y2="174.10" stroke="#1a8cff" stroke-width="1.6"/><line x1="447.50" y1="171.50" x2="447.50" y2="176.70" stroke="#1a8cff" stroke-width="1.6"/><line x1="453.50" y1="171.50" x2="453.50" y2="176.70" stroke="#1a8cff" stroke-width="1.6"/>
<line x1="448.50" y1="176.60" x2="452.50" y2="176.60" stroke="#1a8cff" stroke-width="1.6"/><line x1="448.50" y1="174.60" x2="448.50" y2="178.60" stroke="#1a8cff" stroke-width="1.6"/><line x1="452.50" y1="174.60" x2="452.50" y2="178.60" stroke="#1a8cff" stroke-width="1.6"/>
<line x1="449.50" y1="173.55" x2="455.50" y2="173.55" stroke="#1a8cff" stroke-width="1.6"/><line x1="449.50" y1="170.95" x2="449.50" y2="176.15" stroke="#1a8cff" stroke-width="1.6"/><line x1="455.50" y1="170.95" x2="455.50" y2="176.15" stroke="#1a8cff" stroke-width="1.6"/>
<line x1="450.50" y1="176.05" x2="454.50" y2="176.05" stroke="#1a8cff" stroke-width="1.6"/><line x1="450.50" y1="174.05" x2="450.50" y2="178.05" stroke="#1a8cff" stroke-width="1.6"/><line x1="454.50" y1="174.05" x2="454.50" y2="178.05" stroke="#1a8cff" stroke-width="1.6"/>
<line x1="451.50" y1="170.00" x2="457.50" y2="170.00" stroke="#1a8cff" stroke-width="1.6"/><line x1="451.50" y1="167.40" x2="451.50" y2="172.60" stroke="#1a8cff" stroke-width="1.6"/><line x1="457.50" y1="167.40" x2="457.50" y2="172.60" stroke="#1a8cff" stroke-width="1.6"/>
<line x1="452.50" y1="172.50" x2="456.50" y2="172.50" stroke="#1a8cff" stroke-width="1.6"/><line x1="452.50" y1="170.50" x2="452.50" y2="174.50" stroke="#1a8cff" stroke-width="1.6"/><line x1="456.50" y1="170.50" x2="456.50" y2="174.50" stroke="#1a8cff" stroke-width="1.6"/>
<line x1="453.50" y1="170.45" x2="459.50" y2="170.45" stroke="#1a8cff" stroke-width="1.6"/><line x1="453.50" y1="167.85" x2="453.50" y2="173.05" stroke="#1a8cff" stroke-width="1.6"/><line x1="459.50" y1="167.85" x2="459.50" y2="173.05" stroke="#1a8cff" stroke-width="1.6"/>
<line x1="454.50" y1="172.95" x2="458.50" y2="172.95" stroke="#1a8cff" stroke-width="1.6"/><line x1="454.50" y1="170.95" x2="454.50" y2="174.95" stroke="#1a8cff" stroke-width="1.6"/><line x1="458.50" y1="170.95" x2="458.50" y2="174.95" stroke="#1a8cff" stroke-width="1.6"/>
<line x1="455.50" y1="168.90" x2="461.50" y2="168.90" stroke="#1a8cff" stroke-width="1.6"/><line x1="455.50" y1="166.30" x2="455.50" y2="171.50" stroke="#1a8cff" stroke-width="1.6"/><line x1="461.50" y1="166.30" x2="461.50" y2="171.50" stroke="#1a8cff" stroke-width="1.6"/>
<line x1="456.50" y1="171.40" x2="460.50" y2="171.40" stroke="#1a8cff" stroke-width="1.6"/><line x1="456.50" y1="169.40" x2="456.50" y2="173.40" stroke="#1a8cff" stroke-width="1.6"/><line x1="460.50" y1="169.40" x2="460.50" y2="173.40" stroke="#1a8cff" stroke-width="1.6"/>
<line x1="465.80" y1="170.20" x2="474.40" y2="170.20" stroke="#1a8cff" stroke-width="1.4"/><line x1="465.80" y1="167.60" x2="465.80" y2="172.80" stroke="#1a8cff" stroke-width="1.4"/><line x1="474.40" y1="167.60" x2="474.40" y2="172.80" stroke="#1a8cff" stroke-width="1.4"/>
<path d="M471.50,167.00 L474.70,170.20 L471.50,173.40 L468.30,170.20 Z" fill="#1a8cff"/>
<line x1="475.80" y1="138.00" x2="484.40" y2="138.00" stroke="#1a8cff" stroke-width="1.4"/><line x1="475.80" y1="135.40" x2="475.80" y2="140.60" stroke="#1a8cff" stroke-width="1.4"/><line x1="484.40" y1="135.40" x2="484.40" y2="140.60" stroke="#1a8cff" stroke-width="1.4"/>
<line x1="482.20" y1="121.50" x2="491.60" y2="121.50" stroke="#1a8cff" stroke-width="1.4"/><line x1="482.20" y1="119.10" x2="482.20" y2="123.90" stroke="#1a8cff" stroke-width="1.4"/><line x1="491.60" y1="119.10" x2="491.60" y2="123.90" stroke="#1a8cff" stroke-width="1.4"/>
<line x1="483.00" y1="124.40" x2="491.00" y2="124.40" stroke="#1a8cff" stroke-width="1.4"/><line x1="483.00" y1="122.00" x2="483.00" y2="126.80" stroke="#1a8cff" stroke-width="1.4"/><line x1="491.00" y1="122.00" x2="491.00" y2="126.80" stroke="#1a8cff" stroke-width="1.4"/>
<path d="M484.40,122.55 L489.60,122.55 L487.00,127.62 Z" fill="#1a8cff"/>
<line x1="673.90" y1="13.40" x2="692.20" y2="13.40" stroke="#1a8cff" stroke-width="1.4"/><line x1="673.90" y1="10.80" x2="673.90" y2="16.00" stroke="#1a8cff" stroke-width="1.4"/><line x1="692.20" y1="10.80" x2="692.20" y2="16.00" stroke="#1a8cff" stroke-width="1.4"/>
<path d="M680.60,11.75 L686.60,11.75 L683.60,17.60 Z" fill="#1a8cff"/>
<circle cx="440.20" cy="183.80" r="2.2" fill="none" stroke="#ff0000" stroke-width="2.3"/>
<circle cx="443.10" cy="180.90" r="2.2" fill="none" stroke="#ff0000" stroke-width="2.3"/>
<circle cx="446.40" cy="178.00" r="2.2" fill="none" stroke="#ff0000" stroke-width="2.3"/>
<circle cx="449.60" cy="176.30" r="2.2" fill="none" stroke="#ff0000" stroke-width="2.3"/>
<circle cx="458.90" cy="172.00" r="2.2" fill="none" stroke="#ff0000" stroke-width="2.3"/>
<circle cx="479.40" cy="138.10" r="2.2" fill="none" stroke="#ff0000" stroke-width="2.3"/>
<circle cx="470.8" cy="160.9" r="3.3" fill="#ff0000"/>
<circle cx="483.5" cy="132" r="3.3" fill="#ff0000"/>
<circle cx="487" cy="129.5" r="3.3" fill="#ff0000"/>
<rect x="433.2" y="191.9" width="4.8" height="4.8" fill="#ff8080" stroke="#ff0000" stroke-width="1.5"/>
<line x1="683.60" y1="23.30" x2="683.60" y2="50.10" stroke="#ff0000" stroke-width="1.4"/><line x1="680.80" y1="23.30" x2="686.40" y2="23.30" stroke="#ff0000" stroke-width="1.4"/><line x1="680.80" y1="50.10" x2="686.40" y2="50.10" stroke="#ff0000" stroke-width="1.4"/>
<circle cx="683.6" cy="36.7" r="2.5" fill="#ff0000"/></g>
<g transform="translate(47.00,28.00) scale(1.2697,1)">
<text x="0.00" y="0.00" font-size="9.50">EW</text>
<text x="14.77" y="3.23" font-size="7.60">[OIII]+H</text>
<text x="42.69" y="3.23" font-size="7.60" font-style="italic">β</text>
<text x="46.47" y="0.00" font-size="9.50"> = 9137</text>
<text x="75.58" y="-3.99" font-size="8.36">+</text>
<text x="80.94" y="-3.99" font-size="7.60">1459</text>
<text x="75.58" y="2.85" font-size="8.36">−</text>
<text x="80.94" y="2.85" font-size="7.60">1320</text>
<text x="98.99" y="0.00" font-size="9.50">Å</text>
</g>
<g transform="translate(47.00,51.00) scale(1.2617,1)">
<text x="0.00" y="0.00" font-size="9.50">log(</text>
<text x="15.30" y="0.00" font-size="9.50" font-style="italic">M</text>
<polygon points="25.88,-2.81 26.46,-1.18 28.19,-1.13 26.82,-0.07 27.31,1.59 25.88,0.61 24.45,1.59 24.94,-0.07 23.56,-1.13 25.30,-1.18" fill="#000"/>
<text x="28.54" y="0.00" font-size="9.50">/M</text>
<circle cx="42.97" cy="0.11" r="2.74" fill="none" stroke="#000" stroke-width="0.53"/><circle cx="42.97" cy="0.11" r="0.53" fill="#000"/>
<text x="46.31" y="0.00" font-size="9.50">) = 8.1</text>
<text x="71.46" y="-3.99" font-size="8.36">+</text>
<text x="76.82" y="-3.99" font-size="7.60">0.2</text>
<text x="71.46" y="2.85" font-size="8.36">−</text>
<text x="76.82" y="2.85" font-size="7.60">0.3</text>
</g>
<g transform="translate(47.00,74.00) scale(1.3005,1)">
<text x="0.00" y="0.00" font-size="9.50">log(</text>
<text x="15.30" y="0.00" font-size="9.50" font-style="italic">t</text>
<text x="17.94" y="2.66" font-size="7.60">age</text>
<text x="28.49" y="0.00" font-size="9.50">/yr) = 8.3</text>
<text x="64.19" y="-3.99" font-size="8.36">+</text>
<text x="69.55" y="-3.99" font-size="7.60">0.3</text>
<text x="64.19" y="2.85" font-size="8.36">−</text>
<text x="69.55" y="2.85" font-size="7.60">0.3</text>
</g>
<g transform="translate(47.00,97.00) scale(1.3071,1)">
<text x="0.00" y="0.00" font-size="9.50" font-style="italic">z</text>
<text x="3.70" y="2.66" font-size="7.60">phot</text>
<text x="17.21" y="0.00" font-size="9.50"> = 7.662</text>
<text x="48.69" y="-3.99" font-size="8.36">+</text>
<text x="54.05" y="-3.99" font-size="7.60">0.003</text>
<text x="48.69" y="2.85" font-size="8.36">−</text>
<text x="54.05" y="2.85" font-size="7.60">0.003</text>
</g>
<g transform="translate(47.00,121.00) scale(1.3183,1)">
<text x="0.00" y="0.00" font-size="9.50" font-style="italic">A</text>
<text x="5.80" y="2.66" font-size="7.60" font-style="italic">V</text>
<text x="10.45" y="0.00" font-size="9.50"> = 2.03</text>
<text x="37.18" y="-3.99" font-size="8.36">+</text>
<text x="42.54" y="-3.99" font-size="7.60">0.1</text>
<text x="37.18" y="2.85" font-size="8.36">−</text>
<text x="42.54" y="2.85" font-size="7.60">0.2</text>
</g>
<g transform="translate(47.00,144.00) scale(1.2873,1)">
<text x="0.00" y="0.00" font-size="9.50" font-style="italic">χ</text>
<text x="4.18" y="-4.28" font-size="7.60">2</text>
<text x="4.18" y="3.14" font-size="7.60">MAP</text>
<text x="20.65" y="0.00" font-size="9.50"> = 5.65</text>
</g>
<g transform="translate(403.00,28.00) scale(1.2257,1)">
<text x="0.00" y="0.00" font-size="9.50">log(</text>
<text x="15.30" y="0.00" font-size="9.50" font-style="italic">M</text>
<polygon points="25.88,-2.81 26.46,-1.18 28.19,-1.13 26.82,-0.07 27.31,1.59 25.88,0.61 24.45,1.59 24.94,-0.07 23.56,-1.13 25.30,-1.18" fill="#000"/>
<text x="28.54" y="0.00" font-size="9.50">/M</text>
<circle cx="42.97" cy="0.11" r="2.74" fill="none" stroke="#000" stroke-width="0.53"/><circle cx="42.97" cy="0.11" r="0.53" fill="#000"/>
<text x="46.31" y="0.00" font-size="9.50">) = 9.62 ± 0.04</text>
</g>
<g transform="translate(403.00,46.10) scale(1.2425,1)">
<text x="0.00" y="0.00" font-size="9.50">log(</text>
<text x="15.30" y="0.00" font-size="9.50" font-style="italic">t</text>
<text x="17.94" y="2.66" font-size="7.60">age</text>
<text x="28.49" y="0.00" font-size="9.50">/yr) = 8.699 ± 0.002</text>
</g>
<g transform="translate(403.00,63.00) scale(1.2944,1)">
<text x="0.00" y="0.00" font-size="9.50" font-style="italic">z</text>
<text x="3.70" y="2.66" font-size="7.60">phot</text>
<text x="17.21" y="0.00" font-size="9.50"> = 7.5 ± 0.1</text>
</g>
<g transform="translate(403.00,81.80) scale(1.2810,1)">
<text x="0.00" y="0.00" font-size="9.50" font-style="italic">A</text>
<text x="5.80" y="2.66" font-size="7.60" font-style="italic">V</text>
<text x="10.45" y="0.00" font-size="9.50"> = 1.23 ± 0.1</text>
</g>
<g transform="translate(403.00,100.60) scale(1.3440,1)">
<text x="0.00" y="0.00" font-size="9.50" font-style="italic">χ</text>
<text x="4.18" y="-4.28" font-size="7.60">2</text>
<text x="4.18" y="3.14" font-size="7.60">best</text>
<text x="16.42" y="0.00" font-size="9.50"> = 4.47</text>
</g>
<rect x="213.4" y="192.5" width="124.8" height="40.4" rx="2.5" fill="#fff" fill-opacity="0.8" stroke="#cccccc" stroke-width="1"/>
<line x1="217.3" y1="199.40" x2="235.6" y2="199.40" stroke="#000" stroke-width="1.25"/>
<g transform="translate(243.20,202.80) scale(1.1721,1)">
<text x="0.00" y="0.00" font-size="10.00">BEAGLE SED</text>
</g>
<line x1="217.3" y1="212.20" x2="235.6" y2="212.20" stroke="#ffbf50" stroke-width="1.25"/>
<g transform="translate(243.20,215.60) scale(1.2268,1)">
<text x="0.00" y="0.00" font-size="10.00">Type II AGN SED</text>
</g>
<line x1="217.3" y1="225.00" x2="235.6" y2="225.00" stroke="#ff30ff" stroke-width="1.25"/>
<g transform="translate(243.20,228.40) scale(1.1896,1)">
<text x="0.00" y="0.00" font-size="10.00">Galaxy SED</text>
</g>
<rect x="557.8" y="164.8" width="137.7" height="68.2" rx="2.5" fill="#fff" fill-opacity="0.8" stroke="#cccccc" stroke-width="1"/>
<line x1="562.7" y1="174.00" x2="585.7" y2="174.00" stroke="#000" stroke-width="1.25"/>
<g transform="translate(595.50,177.90) scale(1.1745,1)">
<text x="0.00" y="0.00" font-size="11.00">CIGALE SED</text>
</g>
<line x1="562.7" y1="189.80" x2="585.7" y2="189.80" stroke="#ffbf50" stroke-width="1.25"/>
<g transform="translate(595.50,193.70) scale(1.2064,1)">
<text x="0.00" y="0.00" font-size="11.00">Type I AGN SED</text>
</g>
<line x1="562.7" y1="205.60" x2="585.7" y2="205.60" stroke="#ff30ff" stroke-width="1.25"/>
<g transform="translate(595.50,209.50) scale(1.1773,1)">
<text x="0.00" y="0.00" font-size="11.00">Galaxy SED</text>
</g>
<line x1="562.7" y1="221.40" x2="585.7" y2="221.40" stroke="#ff6666" stroke-width="1.25"/>
<g transform="translate(595.50,225.30) scale(1.1938,1)">
<text x="0.00" y="0.00" font-size="11.00">Dust SED</text>
</g>
<path d="M40.60,3.50 H342.40 V237.80 H40.60 Z" fill="none" stroke="#000" stroke-width="1.4"/>
<path d="M398.60,4.00 H700.20 V237.50 H398.60 Z" fill="none" stroke="#000" stroke-width="1.4"/>
<line x1="35.60" y1="3.50" x2="40.60" y2="3.50" stroke="#000" stroke-width="1.1"/>
<line x1="38.00" y1="9.76" x2="40.60" y2="9.76" stroke="#000" stroke-width="1.1"/>
<line x1="38.00" y1="16.02" x2="40.60" y2="16.02" stroke="#000" stroke-width="1.1"/>
<line x1="38.00" y1="22.28" x2="40.60" y2="22.28" stroke="#000" stroke-width="1.1"/>
<line x1="38.00" y1="28.54" x2="40.60" y2="28.54" stroke="#000" stroke-width="1.1"/>
<line x1="35.60" y1="34.80" x2="40.60" y2="34.80" stroke="#000" stroke-width="1.1"/>
<line x1="38.00" y1="41.06" x2="40.60" y2="41.06" stroke="#000" stroke-width="1.1"/>
<line x1="38.00" y1="47.32" x2="40.60" y2="47.32" stroke="#000" stroke-width="1.1"/>
<line x1="38.00" y1="53.58" x2="40.60" y2="53.58" stroke="#000" stroke-width="1.1"/>
<line x1="38.00" y1="59.84" x2="40.60" y2="59.84" stroke="#000" stroke-width="1.1"/>
<line x1="35.60" y1="66.10" x2="40.60" y2="66.10" stroke="#000" stroke-width="1.1"/>
<line x1="38.00" y1="72.36" x2="40.60" y2="72.36" stroke="#000" stroke-width="1.1"/>
<line x1="38.00" y1="78.62" x2="40.60" y2="78.62" stroke="#000" stroke-width="1.1"/>
<line x1="38.00" y1="84.88" x2="40.60" y2="84.88" stroke="#000" stroke-width="1.1"/>
<line x1="38.00" y1="91.14" x2="40.60" y2="91.14" stroke="#000" stroke-width="1.1"/>
<line x1="35.60" y1="97.40" x2="40.60" y2="97.40" stroke="#000" stroke-width="1.1"/>
<line x1="38.00" y1="103.66" x2="40.60" y2="103.66" stroke="#000" stroke-width="1.1"/>
<line x1="38.00" y1="109.92" x2="40.60" y2="109.92" stroke="#000" stroke-width="1.1"/>
<line x1="38.00" y1="116.18" x2="40.60" y2="116.18" stroke="#000" stroke-width="1.1"/>
<line x1="38.00" y1="122.44" x2="40.60" y2="122.44" stroke="#000" stroke-width="1.1"/>
<line x1="35.60" y1="128.70" x2="40.60" y2="128.70" stroke="#000" stroke-width="1.1"/>
<line x1="38.00" y1="134.96" x2="40.60" y2="134.96" stroke="#000" stroke-width="1.1"/>
<line x1="38.00" y1="141.22" x2="40.60" y2="141.22" stroke="#000" stroke-width="1.1"/>
<line x1="38.00" y1="147.48" x2="40.60" y2="147.48" stroke="#000" stroke-width="1.1"/>
<line x1="38.00" y1="153.74" x2="40.60" y2="153.74" stroke="#000" stroke-width="1.1"/>
<line x1="35.60" y1="160.00" x2="40.60" y2="160.00" stroke="#000" stroke-width="1.1"/>
<line x1="38.00" y1="166.26" x2="40.60" y2="166.26" stroke="#000" stroke-width="1.1"/>
<line x1="38.00" y1="172.52" x2="40.60" y2="172.52" stroke="#000" stroke-width="1.1"/>
<line x1="38.00" y1="178.78" x2="40.60" y2="178.78" stroke="#000" stroke-width="1.1"/>
<line x1="38.00" y1="185.04" x2="40.60" y2="185.04" stroke="#000" stroke-width="1.1"/>
<line x1="35.60" y1="191.30" x2="40.60" y2="191.30" stroke="#000" stroke-width="1.1"/>
<line x1="38.00" y1="197.56" x2="40.60" y2="197.56" stroke="#000" stroke-width="1.1"/>
<line x1="38.00" y1="203.82" x2="40.60" y2="203.82" stroke="#000" stroke-width="1.1"/>
<line x1="38.00" y1="210.08" x2="40.60" y2="210.08" stroke="#000" stroke-width="1.1"/>
<line x1="38.00" y1="216.34" x2="40.60" y2="216.34" stroke="#000" stroke-width="1.1"/>
<line x1="35.60" y1="222.60" x2="40.60" y2="222.60" stroke="#000" stroke-width="1.1"/>
<line x1="38.00" y1="228.86" x2="40.60" y2="228.86" stroke="#000" stroke-width="1.1"/>
<line x1="38.00" y1="235.12" x2="40.60" y2="235.12" stroke="#000" stroke-width="1.1"/>
<line x1="55.02" y1="237.80" x2="55.02" y2="242.80" stroke="#000" stroke-width="1.1"/>
<line x1="78.64" y1="237.80" x2="78.64" y2="242.80" stroke="#000" stroke-width="1.1"/>
<line x1="114.25" y1="237.80" x2="114.25" y2="242.80" stroke="#000" stroke-width="1.1"/>
<line x1="152.00" y1="237.80" x2="152.00" y2="242.80" stroke="#000" stroke-width="1.1"/>
<line x1="225.36" y1="237.80" x2="225.36" y2="242.80" stroke="#000" stroke-width="1.1"/>
<line x1="268.27" y1="237.80" x2="268.27" y2="242.80" stroke="#000" stroke-width="1.1"/>
<line x1="298.72" y1="237.80" x2="298.72" y2="242.80" stroke="#000" stroke-width="1.1"/>
<line x1="322.34" y1="237.80" x2="322.34" y2="242.80" stroke="#000" stroke-width="1.1"/>
<line x1="97.94" y1="237.80" x2="97.94" y2="240.40" stroke="#000" stroke-width="1.1"/>
<line x1="128.38" y1="237.80" x2="128.38" y2="240.40" stroke="#000" stroke-width="1.1"/>
<line x1="140.85" y1="237.80" x2="140.85" y2="240.40" stroke="#000" stroke-width="1.1"/>
<line x1="341.64" y1="237.80" x2="341.64" y2="240.40" stroke="#000" stroke-width="1.1"/>
<line x1="396.00" y1="8.24" x2="398.60" y2="8.24" stroke="#000" stroke-width="1.1"/>
<line x1="396.00" y1="17.42" x2="398.60" y2="17.42" stroke="#000" stroke-width="1.1"/>
<line x1="393.60" y1="26.60" x2="398.60" y2="26.60" stroke="#000" stroke-width="1.1"/>
<line x1="396.00" y1="35.78" x2="398.60" y2="35.78" stroke="#000" stroke-width="1.1"/>
<line x1="396.00" y1="44.96" x2="398.60" y2="44.96" stroke="#000" stroke-width="1.1"/>
<line x1="396.00" y1="54.14" x2="398.60" y2="54.14" stroke="#000" stroke-width="1.1"/>
<line x1="393.60" y1="63.32" x2="398.60" y2="63.32" stroke="#000" stroke-width="1.1"/>
<line x1="396.00" y1="72.50" x2="398.60" y2="72.50" stroke="#000" stroke-width="1.1"/>
<line x1="396.00" y1="81.68" x2="398.60" y2="81.68" stroke="#000" stroke-width="1.1"/>
<line x1="396.00" y1="90.86" x2="398.60" y2="90.86" stroke="#000" stroke-width="1.1"/>
<line x1="393.60" y1="100.04" x2="398.60" y2="100.04" stroke="#000" stroke-width="1.1"/>
<line x1="396.00" y1="109.22" x2="398.60" y2="109.22" stroke="#000" stroke-width="1.1"/>
<line x1="396.00" y1="118.40" x2="398.60" y2="118.40" stroke="#000" stroke-width="1.1"/>
<line x1="396.00" y1="127.58" x2="398.60" y2="127.58" stroke="#000" stroke-width="1.1"/>
<line x1="393.60" y1="136.76" x2="398.60" y2="136.76" stroke="#000" stroke-width="1.1"/>
<line x1="396.00" y1="145.94" x2="398.60" y2="145.94" stroke="#000" stroke-width="1.1"/>
<line x1="396.00" y1="155.12" x2="398.60" y2="155.12" stroke="#000" stroke-width="1.1"/>
<line x1="396.00" y1="164.30" x2="398.60" y2="164.30" stroke="#000" stroke-width="1.1"/>
<line x1="393.60" y1="173.48" x2="398.60" y2="173.48" stroke="#000" stroke-width="1.1"/>
<line x1="396.00" y1="182.66" x2="398.60" y2="182.66" stroke="#000" stroke-width="1.1"/>
<line x1="396.00" y1="191.84" x2="398.60" y2="191.84" stroke="#000" stroke-width="1.1"/>
<line x1="396.00" y1="201.02" x2="398.60" y2="201.02" stroke="#000" stroke-width="1.1"/>
<line x1="393.60" y1="210.20" x2="398.60" y2="210.20" stroke="#000" stroke-width="1.1"/>
<line x1="396.00" y1="219.38" x2="398.60" y2="219.38" stroke="#000" stroke-width="1.1"/>
<line x1="396.00" y1="228.56" x2="398.60" y2="228.56" stroke="#000" stroke-width="1.1"/>
<line x1="396.00" y1="237.74" x2="398.60" y2="237.74" stroke="#000" stroke-width="1.1"/>
<line x1="403.71" y1="237.50" x2="403.71" y2="240.10" stroke="#000" stroke-width="1.1"/>
<line x1="411.50" y1="237.50" x2="411.50" y2="240.10" stroke="#000" stroke-width="1.1"/>
<line x1="417.86" y1="237.50" x2="417.86" y2="240.10" stroke="#000" stroke-width="1.1"/>
<line x1="423.25" y1="237.50" x2="423.25" y2="240.10" stroke="#000" stroke-width="1.1"/>
<line x1="427.91" y1="237.50" x2="427.91" y2="240.10" stroke="#000" stroke-width="1.1"/>
<line x1="432.02" y1="237.50" x2="432.02" y2="240.10" stroke="#000" stroke-width="1.1"/>
<line x1="435.70" y1="237.50" x2="435.70" y2="242.50" stroke="#000" stroke-width="1.1"/>
<line x1="459.90" y1="237.50" x2="459.90" y2="240.10" stroke="#000" stroke-width="1.1"/>
<line x1="474.06" y1="237.50" x2="474.06" y2="240.10" stroke="#000" stroke-width="1.1"/>
<line x1="484.11" y1="237.50" x2="484.11" y2="240.10" stroke="#000" stroke-width="1.1"/>
<line x1="491.90" y1="237.50" x2="491.90" y2="240.10" stroke="#000" stroke-width="1.1"/>
<line x1="498.26" y1="237.50" x2="498.26" y2="240.10" stroke="#000" stroke-width="1.1"/>
<line x1="503.65" y1="237.50" x2="503.65" y2="240.10" stroke="#000" stroke-width="1.1"/>
<line x1="508.31" y1="237.50" x2="508.31" y2="240.10" stroke="#000" stroke-width="1.1"/>
<line x1="512.42" y1="237.50" x2="512.42" y2="240.10" stroke="#000" stroke-width="1.1"/>
<line x1="516.10" y1="237.50" x2="516.10" y2="242.50" stroke="#000" stroke-width="1.1"/>
<line x1="540.30" y1="237.50" x2="540.30" y2="240.10" stroke="#000" stroke-width="1.1"/>
<line x1="554.46" y1="237.50" x2="554.46" y2="240.10" stroke="#000" stroke-width="1.1"/>
<line x1="564.51" y1="237.50" x2="564.51" y2="240.10" stroke="#000" stroke-width="1.1"/>
<line x1="572.30" y1="237.50" x2="572.30" y2="240.10" stroke="#000" stroke-width="1.1"/>
<line x1="578.66" y1="237.50" x2="578.66" y2="240.10" stroke="#000" stroke-width="1.1"/>
<line x1="584.05" y1="237.50" x2="584.05" y2="240.10" stroke="#000" stroke-width="1.1"/>
<line x1="588.71" y1="237.50" x2="588.71" y2="240.10" stroke="#000" stroke-width="1.1"/>
<line x1="592.82" y1="237.50" x2="592.82" y2="240.10" stroke="#000" stroke-width="1.1"/>
<line x1="596.50" y1="237.50" x2="596.50" y2="242.50" stroke="#000" stroke-width="1.1"/>
<line x1="620.70" y1="237.50" x2="620.70" y2="240.10" stroke="#000" stroke-width="1.1"/>
<line x1="634.86" y1="237.50" x2="634.86" y2="240.10" stroke="#000" stroke-width="1.1"/>
<line x1="644.91" y1="237.50" x2="644.91" y2="240.10" stroke="#000" stroke-width="1.1"/>
<line x1="652.70" y1="237.50" x2="652.70" y2="240.10" stroke="#000" stroke-width="1.1"/>
<line x1="659.06" y1="237.50" x2="659.06" y2="240.10" stroke="#000" stroke-width="1.1"/>
<line x1="664.45" y1="237.50" x2="664.45" y2="240.10" stroke="#000" stroke-width="1.1"/>
<line x1="669.11" y1="237.50" x2="669.11" y2="240.10" stroke="#000" stroke-width="1.1"/>
<line x1="673.22" y1="237.50" x2="673.22" y2="240.10" stroke="#000" stroke-width="1.1"/>
<line x1="676.90" y1="237.50" x2="676.90" y2="242.50" stroke="#000" stroke-width="1.1"/>
<text x="30.4" y="7.40" font-size="11.6" text-anchor="end">26</text>
<text x="30.4" y="38.70" font-size="11.6" text-anchor="end">27</text>
<text x="30.4" y="70.00" font-size="11.6" text-anchor="end">28</text>
<text x="30.4" y="101.30" font-size="11.6" text-anchor="end">29</text>
<text x="30.4" y="132.60" font-size="11.6" text-anchor="end">30</text>
<text x="30.4" y="163.90" font-size="11.6" text-anchor="end">31</text>
<text x="30.4" y="195.20" font-size="11.6" text-anchor="end">32</text>
<text x="30.4" y="226.50" font-size="11.6" text-anchor="end">33</text>
<text x="55.02" y="256.3" font-size="11.6" text-anchor="middle">0.4</text>
<text x="78.64" y="256.3" font-size="11.6" text-anchor="middle">0.5</text>
<text x="114.25" y="256.3" font-size="11.6" text-anchor="middle">0.7</text>
<text x="152.00" y="256.3" font-size="11.6" text-anchor="middle">1.0</text>
<text x="225.36" y="256.3" font-size="11.6" text-anchor="middle">2.0</text>
<text x="268.27" y="256.3" font-size="11.6" text-anchor="middle">3.0</text>
<text x="298.72" y="256.3" font-size="11.6" text-anchor="middle">4.0</text>
<text x="322.34" y="256.3" font-size="11.6" text-anchor="middle">5.0</text>
<text x="389.2" y="30.50" font-size="11.6" text-anchor="end">22</text>
<text x="389.2" y="67.22" font-size="11.6" text-anchor="end">24</text>
<text x="389.2" y="103.94" font-size="11.6" text-anchor="end">26</text>
<text x="389.2" y="140.66" font-size="11.6" text-anchor="end">28</text>
<text x="389.2" y="177.38" font-size="11.6" text-anchor="end">30</text>
<text x="389.2" y="214.10" font-size="11.6" text-anchor="end">32</text>
<text x="435.70" y="256.3" font-size="11.6" text-anchor="middle">1</text>
<text x="516.10" y="256.3" font-size="11.6" text-anchor="middle">10</text>
<text x="596.50" y="256.3" font-size="11.6" text-anchor="middle">100</text>
<text x="676.90" y="256.3" font-size="11.6" text-anchor="middle">1000</text>
<g transform="translate(162.80,274.90) scale(1.0422,1)">
<text x="0.00" y="0.00" font-size="14.00" font-style="italic">λ</text>
<text x="6.06" y="2.38" font-size="10.08">obs</text>
<text x="27.07" y="0.00" font-size="14.00">[</text>
<text x="31.73" y="0.00" font-size="14.00" font-style="italic">μ</text>
<text x="38.76" y="0.00" font-size="14.00">m]</text>
</g>
<g transform="translate(521.00,274.90) scale(1.0496,1)">
<text x="0.00" y="0.00" font-size="14.00" font-style="italic">λ</text>
<text x="6.06" y="2.38" font-size="10.08">obs</text>
<text x="27.07" y="0.00" font-size="14.00">[</text>
<text x="31.73" y="0.00" font-size="14.00" font-style="italic">μ</text>
<text x="38.76" y="0.00" font-size="14.00">m]</text>
</g>
<g transform="translate(9.80,168.80) rotate(-90)"><g transform="translate(0.00,0.00) scale(1.2130,1)">
<text x="0.00" y="0.00" font-size="12.80" font-style="italic">m</text>
<text x="9.24" y="2.56" font-size="9.22">AB</text>
<text x="25.25" y="0.00" font-size="12.80">+</text>
<text x="35.67" y="0.00" font-size="12.80">2.5</text>
<text x="54.23" y="0.00" font-size="12.80">log</text>
<text x="72.89" y="0.00" font-size="12.80" font-style="italic">μ</text>
</g></g>
<g transform="translate(367.40,169.80) rotate(-90)"><g transform="translate(0.00,0.00) scale(1.2256,1)">
<text x="0.00" y="0.00" font-size="12.80" font-style="italic">m</text>
<text x="9.24" y="2.56" font-size="9.22">AB</text>
<text x="25.25" y="0.00" font-size="12.80">+</text>
<text x="35.67" y="0.00" font-size="12.80">2.5</text>
<text x="54.23" y="0.00" font-size="12.80">log</text>
<text x="72.89" y="0.00" font-size="12.80" font-style="italic">μ</text>
</g></g>
</svg></body></html>
